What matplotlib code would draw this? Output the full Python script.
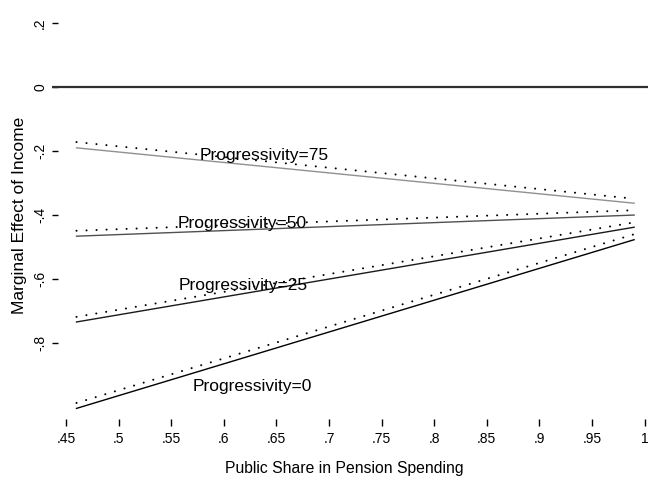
import matplotlib.pyplot as plt

plt.rcParams['font.family'] = ['Liberation Sans', 'DejaVu Sans']

# public share at start / end of each line
share = [0.46, 0.99]

# marginal effect of income (two estimates: solid line and dotted line)
prog_names = ["Progressivity=75", "Progressivity=50", "Progressivity=25", "Progressivity=0"]
solid_vals = [[-0.19, -0.363], [-0.466, -0.40], [-0.734, -0.438], [-1.004, -0.477]]
dot_vals = [[-0.172, -0.349], [-0.449, -0.385], [-0.718, -0.423], [-0.987, -0.46]]
solid_cols = ["#909090", "#505050", "#1a1a1a", "#000000"]

# where the labels go (data coords)
lab_x = [0.5774, 0.5565, 0.5575, 0.5707]
lab_y = [-0.2125, -0.425, -0.619, -0.935]

xticks = [0.45, 0.5, 0.55, 0.6, 0.65, 0.7, 0.75, 0.8, 0.85, 0.9, 0.95, 1.0]
xtick_lab = [".45", ".5", ".55", ".6", ".65", ".7", ".75", ".8", ".85", ".9", ".95", "1"]
yticks = [0.2, 0, -0.2, -0.4, -0.6, -0.8]
ytick_lab = [".2", "0", "-.2", "-.4", "-.6", "-.8"]

W, H = 648, 479
fig = plt.figure(figsize=(W / 100, H / 100), dpi=100)
L, R, T, B = 52, 648, 10, 426
ax = fig.add_axes([L / W, 1 - B / H, (R - L) / W, (B - T) / H])

ax.axhline(0, color="#303030", lw=1.6)
for i in range(4):
    ax.plot(share, dot_vals[i], color="black", lw=1.5, linestyle=(0, (0.01, 4.8)),
            dash_capstyle="round")
    ax.plot(share, solid_vals[i], color=solid_cols[i], lw=1.0)
    ax.text(lab_x[i], lab_y[i], prog_names[i], fontsize=12.5, ha="left", va="center")

ax.set_xlim(0.4367, 1.0032)
ax.set_ylim(-1.059, 0.2406)
for s in ax.spines.values():
    s.set_visible(False)

ax.set_xticks(xticks)
ax.set_xticklabels(xtick_lab, fontsize=10)
ax.set_yticks(yticks)
ax.set_yticklabels(ytick_lab, fontsize=10, rotation=90, va="center")
ax.tick_params(axis="x", direction="in", length=5, width=1, pad=4)
ax.tick_params(axis="y", direction="in", length=4.5, width=1, pad=3.5)

fig.text(20 / W, 1 - 215 / H, "Marginal Effect of Income", rotation=90,
         ha="center", va="center", fontsize=12.5)
fig.text(344 / W, 1 - 469 / H, "Public Share in Pension Spending",
         ha="center", va="center", fontsize=11.3)

fig.savefig("out.png", dpi=100)
